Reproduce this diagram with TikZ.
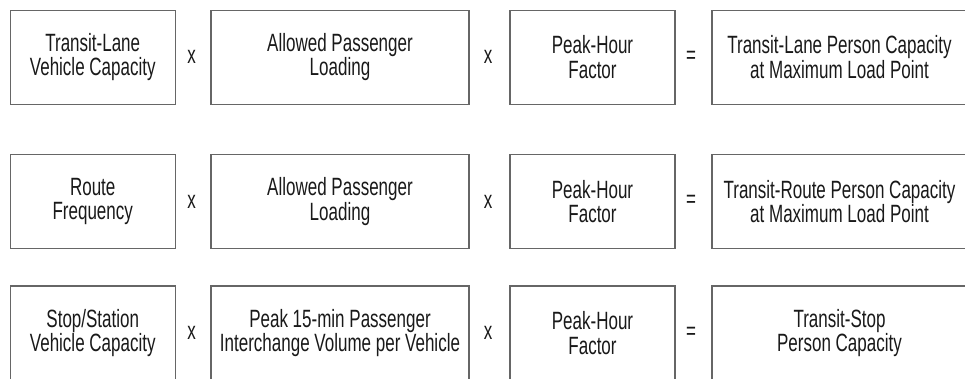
\documentclass[tikz,border=0pt]{standalone}
\usepackage{fontspec}
\setmainfont{Liberation Sans}[FakeStretch=0.68]

\begin{document}
\begin{tikzpicture}[x=0.5pt,y=-0.5pt,
    box/.style={draw=black!60, line width=0.7pt, align=center, inner sep=0pt,
        minimum height=47pt, font=\fontsize{12.5}{12.2}\selectfont, text=black!90},
    narrowbox/.style={box, minimum width=82.5pt},
    widebox/.style={box, minimum width=129pt},
    resultbox/.style={box, minimum width=127.5pt},
    op/.style={font=\fontsize{12.5}{12.2}\selectfont, text=black!90}]
    \def\rowa{57.25}
    \def\rowb{201.5}
    \def\rowc{333}

    \useasboundingbox (0,0) rectangle (965,379);

    % lane capacity
    \node[narrowbox] (lanevc) at (92.75,\rowa) {Transit-Lane\\Vehicle Capacity};
    \node[op] (xa1) at (191.5,\rowa) {x};
    \node[widebox] (loada) at (340,\rowa) {Allowed Passenger\\Loading};
    \node[op] (xa2) at (488,\rowa) {x};
    \node[narrowbox] (phfa) at (592.5,\rowa) {Peak-Hour\\Factor};
    \node[op] (eqa) at (691,\rowa) {=};
    \node[resultbox] (lanepc) at (839.5,\rowa) {Transit-Lane Person Capacity\\at Maximum Load Point};

    % route capacity
    \node[narrowbox] (freq) at (92.75,\rowb) {Route\\Frequency};
    \node[op] (xb1) at (191.5,\rowb) {x};
    \node[widebox] (loadb) at (340,\rowb) {Allowed Passenger\\Loading};
    \node[op] (xb2) at (488,\rowb) {x};
    \node[narrowbox] (phfb) at (592.5,\rowb) {Peak-Hour\\Factor};
    \node[op] (eqb) at (691,\rowb) {=};
    \node[resultbox] (routepc) at (839.5,\rowb) {Transit-Route Person Capacity\\at Maximum Load Point};

    % stop capacity
    \node[narrowbox] (stopvc) at (92.75,\rowc) {Stop/Station\\Vehicle Capacity};
    \node[op] (xc1) at (191.5,\rowc) {x};
    \node[widebox] (interch) at (340,\rowc) {Peak 15-min Passenger\\Interchange Volume per Vehicle};
    \node[op] (xc2) at (488,\rowc) {x};
    \node[narrowbox] (phfc) at (592.5,\rowc) {Peak-Hour\\Factor};
    \node[op] (eqc) at (691,\rowc) {=};
    \node[resultbox] (stoppc) at (839.5,\rowc) {Transit-Stop\\Person Capacity};
\end{tikzpicture}
\end{document}
